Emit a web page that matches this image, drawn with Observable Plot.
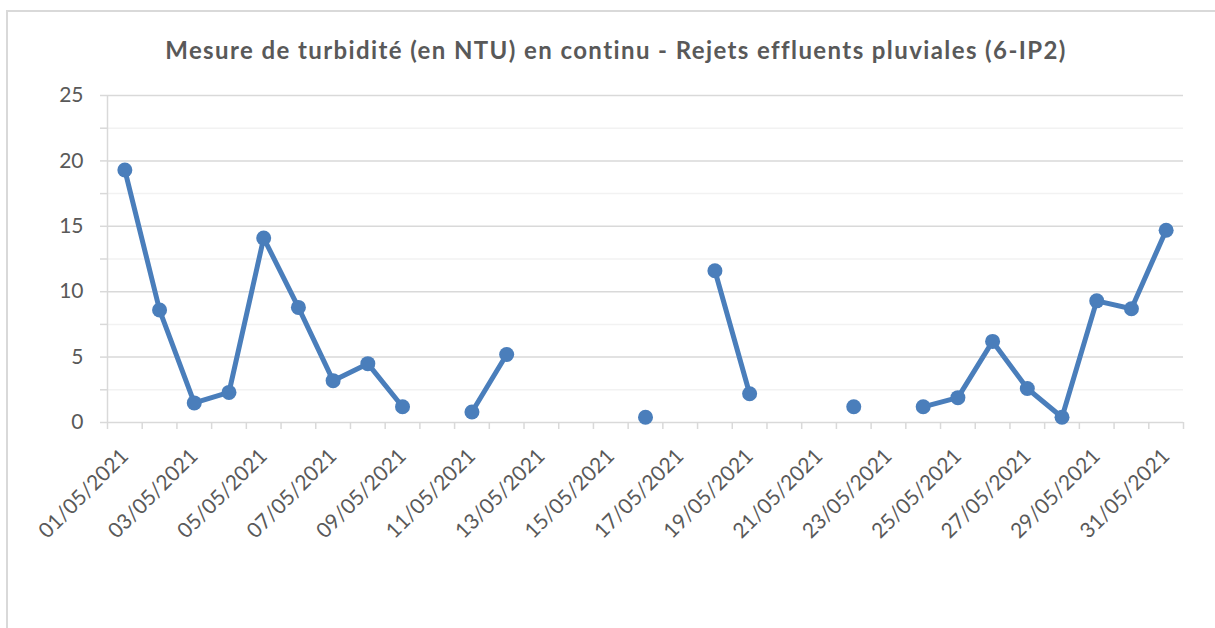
<!DOCTYPE html>
<html>
<head>
<meta charset="utf-8">
<script src="https://cdn.jsdelivr.net/npm/d3@7"></script>
<script src="https://cdn.jsdelivr.net/npm/@observablehq/plot@0.6"></script>
<style>
  html, body { margin: 0; padding: 0; background: #ffffff; }
  #wrap { position: relative; width: 1215px; height: 628px; overflow: hidden; background: #ffffff; }
  #frame { position: absolute; left: 6px; top: 10px; width: 1300px; height: 700px; border: 2px solid #d9d9d9; box-sizing: border-box; }
  #title { position: absolute; left: 0; top: 38px; width: 1232px; text-align: center; font-family: Lato, "Open Sans", sans-serif; font-weight: bold; font-size: 24px; letter-spacing: 1.4px; line-height: 1; color: #595959; white-space: nowrap; }
  #chart { position: absolute; left: 0; top: 0; }
</style>
</head>
<body>
<div id="wrap">
  <div id="frame"></div>
  <div id="chart"></div>
  <div id="title"></div>
</div>
<script>
const title = "Mesure de turbidité (en NTU) en continu - Rejets effluents pluviales (6-IP2)";
const days = [
  "01/05/2021","02/05/2021","03/05/2021","04/05/2021","05/05/2021","06/05/2021","07/05/2021","08/05/2021",
  "09/05/2021","10/05/2021","11/05/2021","12/05/2021","13/05/2021","14/05/2021","15/05/2021","16/05/2021",
  "17/05/2021","18/05/2021","19/05/2021","20/05/2021","21/05/2021","22/05/2021","23/05/2021","24/05/2021",
  "25/05/2021","26/05/2021","27/05/2021","28/05/2021","29/05/2021","30/05/2021","31/05/2021"
];
const turbidity = [
  19.3, 8.6, 1.5, 2.3, 14.1, 8.8, 3.2, 4.5, 1.2, null, 0.8, 5.2, null, null, null, 0.4,
  null, 11.6, 2.2, null, null, 1.2, null, 1.2, 1.9, 6.2, 2.6, 0.4, 9.3, 8.7, 14.7
];
const yMajorTicks = [0, 5, 10, 15, 20, 25];
const yMinorTicks = [2.5, 7.5, 12.5, 17.5, 22.5];

document.getElementById("title").textContent = title;

const data = days.map((label, i) => ({day: i + 1, label, value: turbidity[i]}));
const dayBoundaries = d3.range(0.5, days.length + 1, 1);
const labelledDays = d3.range(1, days.length + 1, 2);

const gridColor = "#d9d9d9";
const minorGrid = "#f2f2f2";
const lineColor = "#4a7ebb";

const chart = Plot.plot({
  width: 1215,
  height: 628,
  marginLeft: 107,
  marginRight: 32,
  marginTop: 95,
  marginBottom: 206,
  x: {type: "linear", domain: [0.5, days.length + 0.5], label: null},
  y: {domain: [0, 25], label: null},
  style: {fontFamily: "Lato, 'Open Sans', sans-serif", fontSize: "21px", color: "#595959", background: "transparent", overflow: "visible"},
  marks: [
    Plot.ruleY(yMinorTicks, {stroke: minorGrid, strokeWidth: 1.5}),
    Plot.ruleY(yMajorTicks, {stroke: gridColor, strokeWidth: 1.5}),
    Plot.ruleX([0.5], {stroke: gridColor, strokeWidth: 1.5}),
    Plot.axisY({ticks: yMajorTicks.concat(yMinorTicks), tickSize: 7, tickFormat: () => "", stroke: gridColor, strokeWidth: 1.5, label: null}),
    Plot.axisY({ticks: yMajorTicks, tickSize: 0, tickPadding: 24, fill: "#595959", label: null}),
    Plot.axisX({ticks: dayBoundaries, tickSize: 7, tickFormat: () => "", stroke: gridColor, strokeWidth: 1.5, label: null}),
    Plot.axisX({ticks: labelledDays, tickSize: 0, tickPadding: 30, tickRotate: -45, tickFormat: d => days[d - 1], fill: "#595959", fontSize: 21, label: null}),
    Plot.line(data, {x: "day", y: "value", stroke: lineColor, strokeWidth: 5, strokeLinejoin: "round"}),
    Plot.dot(data, {x: "day", y: "value", r: 7.5, fill: lineColor, stroke: "none"})
  ]
});
document.getElementById("chart").appendChild(chart);
</script>
</body>
</html>
